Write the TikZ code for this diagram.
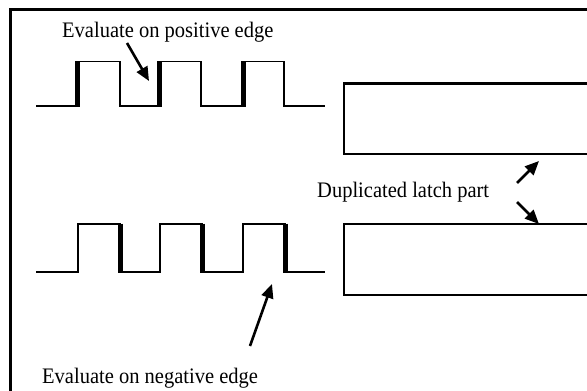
\documentclass[tikz,border=0pt]{standalone}
\usepackage{fontspec}
\setmainfont{Liberation Serif}
\usetikzlibrary{arrows.meta}
\tikzset{
  wave/.style={line width=1.8pt, line join=miter},
  edge/.style={line width=5pt},
  frame/.style={line width=2.8pt},
  latch/.style={line width=2.2pt},
  pointer/.style={line width=2.6pt, -{Triangle[length=14pt,width=12pt]}},
  label/.style={font=\fontsize{20.5}{24}\selectfont, inner sep=0pt, anchor=base west}
}
\begin{document}
\begin{tikzpicture}[x=1pt,y=-1pt]
\useasboundingbox (0,0) rectangle (587,391);
\clip (0,0) rectangle (587,391);
% frame
\draw[frame] (10.5,400) -- (10.5,9.7) -- (600,9.7);
% latch boxes
\draw[latch] (600,83.5) -- (344,83.5) -- (344,154) -- (600,154);
\draw[latch] (600,224) -- (344,224) -- (344,295) -- (600,295);
% positive edge waveform
\draw[wave] (36,106) -- (78,106) -- (78,61.5) -- (120,61.5) -- (120,106) -- (160,106) -- (160,61.5) -- (201,61.5) -- (201,106) -- (244,106) -- (244,61.5) -- (284,61.5) -- (284,106) -- (325,106);
\draw[edge] (77.5,61) -- (77.5,106.5);
\draw[edge] (159.5,61) -- (159.5,106.5);
\draw[edge] (243.5,61) -- (243.5,106.5);
% negative edge waveform
\draw[wave] (36,272) -- (78,272) -- (78,224) -- (120,224) -- (120,272) -- (160,272) -- (160,224) -- (202,224) -- (202,272) -- (243,272) -- (243,224) -- (285,224) -- (285,272) -- (325,272);
\draw[edge] (120.5,223.5) -- (120.5,272.5);
\draw[edge] (202.5,223.5) -- (202.5,272.5);
\draw[edge] (285.5,223.5) -- (285.5,272.5);
% labels
\node[label] (pos) at (62,37) {\scalebox{1}[1.08]{Evaluate on positive edge}};
\node[label] (neg) at (42,383) {\scalebox{1}[1.08]{Evaluate on negative edge}};
\node[label] (dup) at (317,197) {\scalebox{1}[1.08]{Duplicated latch part}};
% arrow ends
\coordinate (p1) at (127,43);
\coordinate (p2) at (149,81);
\coordinate (n1) at (250,346);
\coordinate (n2) at (272,284);
\coordinate (d1) at (517,183);
\coordinate (d2) at (539,161);
\coordinate (d3) at (517,202);
\coordinate (d4) at (539,224);
\draw[pointer] (p1) -- (p2);
\draw[pointer] (n1) -- (n2);
\draw[pointer] (d1) -- (d2);
\draw[pointer] (d3) -- (d4);
\end{tikzpicture}
\end{document}
